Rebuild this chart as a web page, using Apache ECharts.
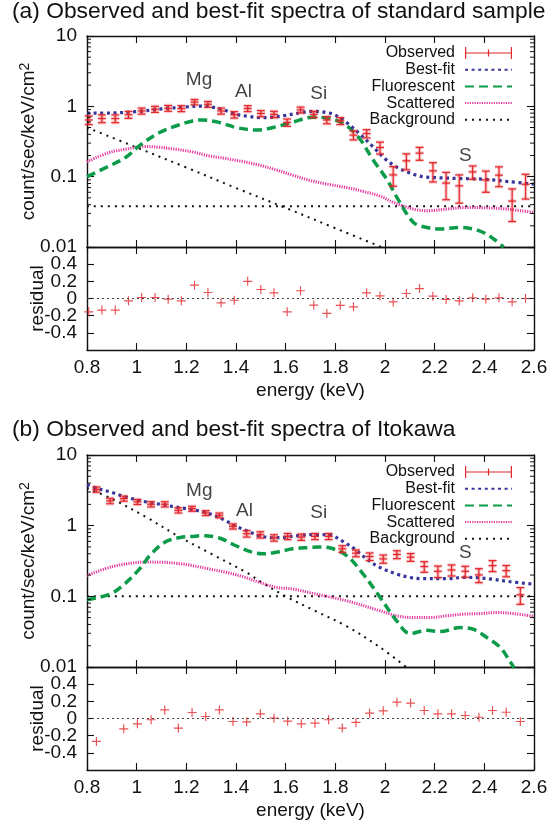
<!DOCTYPE html>
<html>
<head>
<meta charset="utf-8">
<script src="https://cdn.jsdelivr.net/npm/echarts@6/dist/echarts.min.js"></script>
<style>
  html, body { margin: 0; padding: 0; background: #fff; }
  #chart { width: 560px; height: 825px; }
</style>
</head>
<body>
<div id="chart"></div>
<script>
// ---- panel (a): standard sample ----
const energyA = [0.807, 0.860, 0.914, 0.967, 1.020, 1.074, 1.127, 1.180, 1.233, 1.287, 1.340, 1.393, 1.447, 1.500, 1.553, 1.606, 1.660,
  1.713, 1.766, 1.820, 1.873, 1.926, 1.980, 2.033, 2.086, 2.139, 2.193, 2.246, 2.299, 2.353, 2.406, 2.459, 2.512, 2.566];
const observedA = [0.64, 0.67, 0.67, 0.76, 0.86, 0.91, 0.94, 0.93, 1.15, 1.07, 0.86, 0.76, 0.93, 0.79, 0.77, 0.59, 0.89,
  0.77, 0.64, 0.62, 0.39, 0.41, 0.26, 0.106, 0.168, 0.216, 0.121, 0.081, 0.074, 0.117, 0.090, 0.105, 0.045, 0.078];
const errorA = [0.09, 0.085, 0.085, 0.085, 0.085, 0.09, 0.09, 0.09, 0.10, 0.10, 0.085, 0.08, 0.09, 0.08, 0.08, 0.07, 0.085,
  0.08, 0.075, 0.07, 0.057, 0.055, 0.05, 0.033, 0.043, 0.045, 0.037, 0.034, 0.032, 0.025, 0.03, 0.033, 0.022, 0.03];
const residualA = [-0.155, -0.135, -0.135, -0.027, 0.012, 0.012, -0.008, -0.027, 0.155, 0.07, -0.05, -0.02, 0.2, 0.105, 0.066, -0.155, 0.09,
  -0.077, -0.174, -0.08, -0.097, 0.066, 0.03, -0.04, 0.058, 0.116, 0.027, -0.012, -0.027, 0.008, -0.008, 0.008, -0.04, 0];

const bestFitA = [[0.8, 0.80], [0.9, 0.805], [1.0, 0.84], [1.1, 0.92], [1.2, 0.98], [1.26, 1.01], [1.3, 0.98], [1.35, 0.89], [1.4, 0.77],
  [1.45, 0.72], [1.5, 0.69], [1.55, 0.70], [1.6, 0.745], [1.66, 0.81], [1.71, 0.85], [1.76, 0.82], [1.8, 0.75], [1.85, 0.57], [1.9, 0.40],
  [1.95, 0.27], [2.0, 0.18], [2.05, 0.135], [2.1, 0.113], [2.15, 0.10], [2.2, 0.097], [2.3, 0.094], [2.4, 0.092], [2.5, 0.085], [2.6, 0.078]];
const fluorA = [[0.8, 0.10], [0.89, 0.142], [0.955, 0.187], [1.01, 0.274], [1.09, 0.42], [1.16, 0.53], [1.225, 0.62], [1.265, 0.64],
  [1.333, 0.59], [1.40, 0.50], [1.48, 0.46], [1.55, 0.50], [1.63, 0.60], [1.71, 0.70], [1.78, 0.67], [1.845, 0.53], [1.9, 0.34],
  [1.95, 0.177], [2.007, 0.092], [2.06, 0.043], [2.114, 0.0224], [2.155, 0.0194], [2.222, 0.018], [2.30, 0.019], [2.38, 0.017],
  [2.438, 0.013], [2.478, 0.0099]];
const scatA = [[0.8, 0.162], [0.888, 0.22], [0.955, 0.245], [1.03, 0.268], [1.09, 0.262], [1.157, 0.245], [1.225, 0.225], [1.292, 0.197],
  [1.36, 0.181], [1.427, 0.164], [1.494, 0.146], [1.561, 0.125], [1.628, 0.105], [1.70, 0.088], [1.77, 0.078], [1.845, 0.070],
  [1.91, 0.062], [1.98, 0.053], [2.034, 0.043], [2.114, 0.0346], [2.168, 0.0328], [2.249, 0.0346], [2.33, 0.0365], [2.41, 0.036],
  [2.49, 0.0346], [2.6, 0.031]];
const bgFlatA = [[0.8, 0.038], [2.6, 0.038]];
const bgSlopeA = [[0.8, 0.50], [1.0, 0.26], [1.2, 0.135], [1.4, 0.069], [1.6, 0.036], [1.8, 0.0185], [1.985, 0.01]];
const peakPosA = [[1.251, 2.37], [1.430, 1.61], [1.733, 1.53], [2.323, 0.197]];

// ---- panel (b): Itokawa ----
const energyB = [0.838, 0.893, 0.948, 1.003, 1.058, 1.113, 1.168, 1.223, 1.278, 1.333, 1.388, 1.443, 1.498, 1.553, 1.608, 1.663,
  1.718, 1.773, 1.828, 1.883, 1.938, 1.993, 2.048, 2.103, 2.158, 2.213, 2.268, 2.323, 2.378, 2.433, 2.488, 2.545];
const observedB = [3.25, 2.24, 2.42, 2.17, 2.01, 2.01, 1.65, 1.74, 1.51, 1.40, 0.977, 0.769, 0.744, 0.674, 0.705, 0.689,
  0.705, 0.705, 0.470, 0.408, 0.366, 0.339, 0.391, 0.358, 0.264, 0.226, 0.236, 0.226, 0.201, 0.272, 0.231, 0.105];
const errorB = [0.28, 0.2, 0.2, 0.18, 0.17, 0.17, 0.14, 0.14, 0.12, 0.11, 0.08, 0.08, 0.075, 0.07, 0.07, 0.07,
  0.07, 0.07, 0.05, 0.045, 0.045, 0.045, 0.05, 0.045, 0.045, 0.042, 0.042, 0.04, 0.045, 0.048, 0.042, 0.028];
// second bin falls below the residual range, so it is not drawn
const residualB = [-0.267, null, -0.12, -0.062, -0.015, 0.10, -0.112, 0.07, 0.023, 0.10, -0.035, -0.039, 0.054, 0.004, -0.031, -0.062,
  -0.054, -0.015, -0.112, -0.046, 0.062, 0.089, 0.19, 0.18, 0.093, 0.054, 0.054, 0.035, 0.015, 0.093, 0.073, -0.035];

const bestFitB = [[0.8, 3.8], [0.85, 3.3], [0.9, 2.95], [0.95, 2.58], [1.0, 2.32], [1.05, 2.12], [1.1, 2.0], [1.15, 1.85], [1.2, 1.74],
  [1.25, 1.62], [1.3, 1.45], [1.35, 1.22], [1.4, 0.98], [1.45, 0.83], [1.5, 0.71], [1.55, 0.675], [1.6, 0.69], [1.66, 0.73], [1.72, 0.75],
  [1.78, 0.73], [1.83, 0.60], [1.88, 0.46], [1.93, 0.33], [1.98, 0.255], [2.05, 0.205], [2.1, 0.185], [2.15, 0.178], [2.25, 0.178],
  [2.32, 0.185], [2.38, 0.183], [2.43, 0.175], [2.5, 0.162], [2.6, 0.148]];
const fluorB = [[0.8, 0.09], [0.892, 0.107], [0.945, 0.143], [1.012, 0.245], [1.053, 0.378], [1.113, 0.582], [1.174, 0.68], [1.225, 0.705],
  [1.265, 0.72], [1.333, 0.67], [1.40, 0.52], [1.467, 0.42], [1.508, 0.40], [1.561, 0.42], [1.628, 0.47], [1.696, 0.49], [1.737, 0.50],
  [1.777, 0.486], [1.845, 0.378], [1.912, 0.207], [1.98, 0.097], [2.047, 0.045], [2.101, 0.0297], [2.168, 0.0331], [2.222, 0.0317],
  [2.303, 0.0361], [2.357, 0.034], [2.411, 0.026], [2.465, 0.0188], [2.50, 0.0125], [2.52, 0.0097]];
const scatB = [[0.8, 0.197], [0.905, 0.265], [1.04, 0.305], [1.10, 0.304], [1.174, 0.29], [1.225, 0.272], [1.292, 0.244], [1.36, 0.219],
  [1.427, 0.19], [1.494, 0.158], [1.561, 0.134], [1.628, 0.127], [1.71, 0.11], [1.845, 0.0865], [1.98, 0.0624], [2.047, 0.053],
  [2.114, 0.050], [2.18, 0.050], [2.249, 0.053], [2.316, 0.056], [2.384, 0.057], [2.451, 0.059], [2.519, 0.057], [2.6, 0.052]];
const bgFlatB = [[0.8, 0.1], [2.6, 0.1]];
const bgSlopeB = [[0.8, 3.4], [0.9, 2.4], [1.04, 1.31], [1.17, 0.70], [1.3, 0.40], [1.45, 0.21], [1.5, 0.16], [1.6, 0.10],
  [1.72, 0.062], [1.85, 0.037], [1.98, 0.019], [2.09, 0.0097]];
const peakPosB = [[1.252, 3.11], [1.434, 1.63], [1.733, 1.54], [2.323, 0.42]];

// ---- shared ----
const peakNames = ['Mg', 'Al', 'Si', 'S'];
const logMinorTicks = [0.02, 0.03, 0.04, 0.05, 0.06, 0.07, 0.08, 0.09, 0.2, 0.3, 0.4, 0.5, 0.6, 0.7, 0.8, 0.9, 2, 3, 4, 5, 6, 7, 8, 9];
const X_MIN = 0.8, X_MAX = 2.6;

const FONT = '"Liberation Sans", Arial, Helvetica, sans-serif';
const INK = '#111';
const RED = '#e2262b', BLUE = '#35359c', GREEN = '#0c9b48', PINK = '#e2399c';
const OBS_ICON = 'path://M0,0h1.2v12h-1.2z M0,5.4h47v1.2h-47z M22.9,2.5h1.2v7h-1.2z M45.8,0h1.2v12h-1.2z';
const PLUS = 'path://M4.35,0h1.3v4.35h4.35v1.3h-4.35v4.35h-1.3v-4.35h-4.35v-1.3h4.35z';

const chart = echarts.init(document.getElementById('chart'));

const frameLine = { show: true, onZero: false, lineStyle: { color: INK, width: 1.4 } };
const inTick = { show: true, inside: true, length: 7, lineStyle: { color: INK, width: 1.1 } };

function xAx(grid, pos, labels, withName) {
  return {
    type: 'value', gridIndex: grid, position: pos, min: X_MIN, max: X_MAX, interval: 0.2,
    axisLine: frameLine, axisTick: inTick, splitLine: { show: false },
    axisLabel: { show: labels, fontSize: 19, color: INK, margin: 8 },
    name: withName ? 'energy (keV)' : '', nameLocation: 'middle', nameGap: 31, nameMoveOverlap: false,
    nameTextStyle: { fontSize: 19, color: INK }
  };
}
function yLog(grid, pos, labels) {
  return {
    type: 'log', logBase: 10, gridIndex: grid, position: pos, min: 0.01, max: 10,
    axisLine: frameLine, axisTick: inTick, splitLine: { show: false }, minorTick: { show: false },
    axisLabel: { show: labels, fontSize: 19, color: INK, margin: 10 },
    name: labels ? 'count/sec/keV/cm{sup|2}' : '', nameLocation: 'middle', nameGap: 47, nameMoveOverlap: false,
    nameTextStyle: {
      fontSize: 19, color: INK, lineHeight: 22,
      rich: { sup: { fontSize: 14, lineHeight: 14, verticalAlign: 'top', color: INK, fontFamily: FONT } }
    }
  };
}
function yRes(grid, pos, labels) {
  return {
    type: 'value', gridIndex: grid, position: pos, min: -0.6, max: 0.6, interval: 0.2,
    axisLine: frameLine, axisTick: inTick, splitLine: { show: false },
    axisLabel: { show: labels, fontSize: 19, color: INK, margin: 10, showMinLabel: false, showMaxLabel: false,
      formatter: v => String(+v.toFixed(1)) },
    name: labels ? 'residual' : '', nameLocation: 'middle', nameGap: 40, nameMoveOverlap: false,
    nameTextStyle: { fontSize: 19, color: INK }
  };
}

function minorTickSeries(ai) {
  return {
    type: 'custom', xAxisIndex: ai, yAxisIndex: ai, silent: true, clip: false, z: 10,
    data: logMinorTicks.map(v => [X_MIN, v]),
    renderItem: (params, api) => {
      const v = api.value(1);
      const l = api.coord([X_MIN, v]);
      const r = api.coord([X_MAX, v]);
      const st = { stroke: INK, lineWidth: 1 };
      return { type: 'group', children: [
        { type: 'line', shape: { x1: l[0], y1: l[1], x2: l[0] + 4, y2: l[1] }, style: st },
        { type: 'line', shape: { x1: r[0] - 4, y1: r[1], x2: r[0], y2: r[1] }, style: st }
      ] };
    }
  };
}

function observedSeries(ai, energy, obs, err) {
  return {
    name: 'Observed', type: 'custom', xAxisIndex: ai, yAxisIndex: ai, z: 6, silent: true,
    itemStyle: { color: RED },
    encode: { x: 0, y: 1 },
    data: energy.map((e, i) => [e, obs[i], err[i]]),
    renderItem: (params, api) => {
      const x = api.value(0), y = api.value(1), s = api.value(2);
      const c = api.coord([x, y]);
      const hi = api.coord([x, y + s]);
      const lo = api.coord([x, y - s]);
      const w = 4;
      const segs = [
        [c[0], hi[1], c[0], lo[1]],
        [c[0] - w, hi[1], c[0] + w, hi[1]],
        [c[0] - w, lo[1], c[0] + w, lo[1]],
        [c[0] - w, c[1], c[0] + w, c[1]]
      ];
      const children = [];
      segs.forEach(g => children.push({ type: 'line', shape: { x1: g[0], y1: g[1], x2: g[2], y2: g[3] },
        style: { stroke: 'rgba(226,38,43,0.22)', lineWidth: 3.5 } }));
      segs.forEach(g => children.push({ type: 'line', shape: { x1: g[0], y1: g[1], x2: g[2], y2: g[3] },
        style: { stroke: RED, lineWidth: 1.2 } }));
      return { type: 'group', children };
    }
  };
}

function curve(name, data, color, width, dash, ai, z) {
  return {
    name, type: 'line', xAxisIndex: ai, yAxisIndex: ai, data, symbol: 'none', showSymbol: false,
    smooth: 0.35, silent: true, z: z || 3,
    lineStyle: { color, width, type: dash, cap: 'butt' }, itemStyle: { color }
  };
}

function residualSeries(ai, energy, res) {
  return {
    type: 'scatter', xAxisIndex: ai, yAxisIndex: ai, silent: true,
    data: energy.map((e, i) => [e, res[i]]),
    symbol: PLUS, symbolSize: 9, itemStyle: { color: RED },
    markLine: {
      silent: true, symbol: 'none', label: { show: false },
      lineStyle: { color: '#444', width: 1, type: [2, 3] },
      data: [{ yAxis: 0 }]
    }
  };
}

function peakLabels(ai, pos) {
  return {
    type: 'scatter', xAxisIndex: ai, yAxisIndex: ai, silent: true, z: 8,
    symbolSize: 1, itemStyle: { color: 'rgba(0,0,0,0)' },
    data: peakNames.map((n, i) => ({ name: n, value: pos[i] })),
    label: { show: true, position: 'inside', formatter: '{b}', fontSize: 19, color: INK, fontFamily: FONT }
  };
}

function panel(mi, ri, d) {
  return [
    minorTickSeries(mi),
    curve('Background', d.bgFlat, INK, 2, [2, 5], mi),
    curve('Background', d.bgSlope, INK, 2, [2, 5], mi),
    curve('Scattered', d.scat, PINK, 3, [1.2, 1.2], mi),
    curve('Fluorescent', d.fluor, GREEN, 3.5, [9, 5], mi),
    curve('Best-fit', d.best, BLUE, 3.2, [3, 3.6], mi, 4),
    observedSeries(mi, d.energy, d.obs, d.err),
    peakLabels(mi, d.peaks),
    residualSeries(ri, d.energy, d.res)
  ];
}

// legend line samples carry no marker dot
const noDot = { color: 'rgba(0,0,0,0)', opacity: 0, borderWidth: 0 };
function legendAt(top) {
  return {
    top, right: 47, orient: 'vertical', align: 'right', padding: 0,
    itemWidth: 47, itemHeight: 12, itemGap: 0.7, selectedMode: false,
    textStyle: { fontSize: 16, color: INK, fontFamily: FONT, padding: [0, 5, 0, 0] },
    data: [
      { name: 'Observed', icon: OBS_ICON },
      { name: 'Best-fit', itemStyle: noDot },
      { name: 'Fluorescent', itemStyle: noDot },
      { name: 'Scattered', itemStyle: noDot },
      { name: 'Background', itemStyle: noDot }
    ]
  };
}

const titleStyle = { fontSize: 22.8, fontWeight: 'normal', color: INK, fontFamily: FONT };

const option = {
  animation: false,
  backgroundColor: '#fff',
  textStyle: { fontFamily: FONT },
  title: [
    { text: '(a) Observed and best-fit spectra of standard sample', left: 12, top: 0, padding: 0, textStyle: titleStyle },
    { text: '(b) Observed and best-fit spectra of Itokawa', left: 12, top: 418, padding: 0, textStyle: titleStyle }
  ],
  legend: [legendAt(45), legendAt(464)],
  grid: [
    { left: 87, right: 26, top: 36, height: 211 },
    { left: 87, right: 26, top: 247, height: 103 },
    { left: 87, right: 26, top: 455, height: 212 },
    { left: 87, right: 26, top: 667, height: 103 }
  ],
  xAxis: [
    xAx(0, 'bottom', false, false), xAx(0, 'top', false, false),
    xAx(1, 'bottom', true, true), xAx(1, 'top', false, false),
    xAx(2, 'bottom', false, false), xAx(2, 'top', false, false),
    xAx(3, 'bottom', true, true), xAx(3, 'top', false, false)
  ],
  yAxis: [
    yLog(0, 'left', true), yLog(0, 'right', false),
    yRes(1, 'left', true), yRes(1, 'right', false),
    yLog(2, 'left', true), yLog(2, 'right', false),
    yRes(3, 'left', true), yRes(3, 'right', false)
  ],
  series: [
    ...panel(0, 2, { energy: energyA, obs: observedA, err: errorA, res: residualA, best: bestFitA, fluor: fluorA,
      scat: scatA, bgFlat: bgFlatA, bgSlope: bgSlopeA, peaks: peakPosA }),
    ...panel(4, 6, { energy: energyB, obs: observedB, err: errorB, res: residualB, best: bestFitB, fluor: fluorB,
      scat: scatB, bgFlat: bgFlatB, bgSlope: bgSlopeB, peaks: peakPosB })
  ]
};

chart.setOption(option);
</script>
</body>
</html>
